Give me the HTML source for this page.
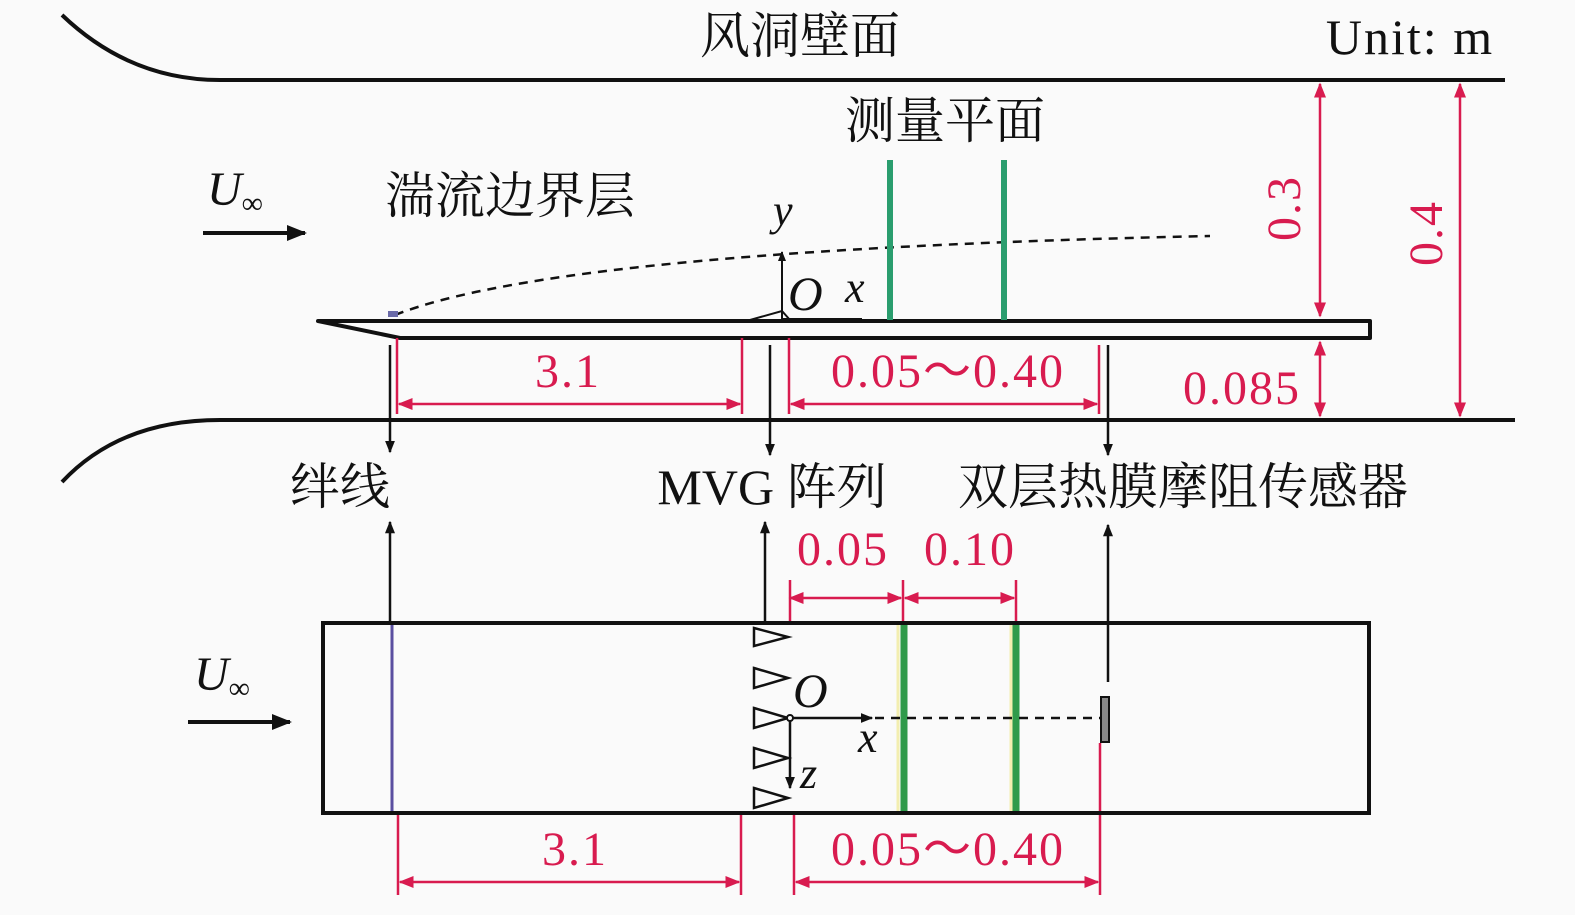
<!DOCTYPE html>
<html><head><meta charset="utf-8"><style>
html,body{margin:0;padding:0;background:#fafafa;}
svg{display:block;}
.cn{font-family:"Liberation Serif","Noto Serif CJK SC",serif;font-size:50px;fill:#111;}
.r{font-family:"Liberation Serif",serif;font-size:48px;fill:#d81b4f;letter-spacing:2px;}
.m{font-family:"Liberation Serif",serif;font-style:italic;fill:#111;}
</style></head><body>
<svg width="1575" height="915" viewBox="0 0 1575 915" xmlns="http://www.w3.org/2000/svg">
<defs>
<marker id="ab" viewBox="0 0 10 10" refX="9" refY="5" markerWidth="5" markerHeight="5" orient="auto-start-reverse"><path d="M0,1 L10,5 L0,9 Z" fill="#111"/></marker>
<marker id="ar" viewBox="0 0 10 10" refX="9" refY="5" markerWidth="6" markerHeight="6" orient="auto-start-reverse"><path d="M0,1 L10,5 L0,9 Z" fill="#d81b4f"/></marker>
</defs>
<rect width="1575" height="915" fill="#fafafa"/>
<path d="M62,15 Q130,80 220,80 L1505,80" fill="none" stroke="#111" stroke-width="4"/>
<path d="M62,482 Q120,420 220,420 L1515,420" fill="none" stroke="#111" stroke-width="4"/>
<path d="M318,321 L1370,321 L1370,338 L400,338 Z" fill="none" stroke="#111" stroke-width="4" stroke-linejoin="round"/>
<path d="M395,315 Q560,250 1210,236" fill="none" stroke="#111" stroke-width="2.5" stroke-dasharray="9,7"/>
<rect x="388" y="311" width="10" height="6" fill="#6a6aa8"/>
<line x1="890" y1="160" x2="890" y2="320" stroke="#2a9d6e" stroke-width="6"/>
<line x1="1004" y1="160" x2="1004" y2="320" stroke="#2a9d6e" stroke-width="6"/>
<line x1="782" y1="319" x2="782" y2="252" stroke="#111" stroke-width="2" marker-end="url(#ab)"/>
<path d="M750,320 L782,311 L790,320" fill="none" stroke="#111" stroke-width="2"/>
<line x1="782" y1="319" x2="862" y2="319" stroke="#111" stroke-width="2"/>
<text class="m" x="773" y="225" font-size="44">y</text>
<text class="m" x="788" y="310" font-size="48">O</text>
<text class="m" x="845" y="302" font-size="44">x</text>
<line x1="203" y1="233" x2="305" y2="233" stroke="#111" stroke-width="4" marker-end="url(#ab)"/>
<line x1="188" y1="722" x2="290" y2="722" stroke="#111" stroke-width="4" marker-end="url(#ab)"/>
<text class="m" x="207" y="205" font-size="48">U<tspan font-size="30" font-style="normal" dy="8">∞</tspan></text>
<text class="m" x="194" y="690" font-size="48">U<tspan font-size="30" font-style="normal" dy="8">∞</tspan></text>
<text class="cn" x="800" y="53" text-anchor="middle">风洞壁面</text>
<text class="r" x="1410" y="54" text-anchor="middle" style="fill:#111;font-size:50px">Unit: m</text>
<text class="cn" x="945" y="138" text-anchor="middle">测量平面</text>
<text class="cn" x="510" y="213" text-anchor="middle">湍流边界层</text>
<g stroke="#d81b4f" stroke-width="2.5" fill="none">
<line x1="1320" y1="84" x2="1320" y2="316" marker-start="url(#ar)" marker-end="url(#ar)"/>
<line x1="1320" y1="342" x2="1320" y2="416" marker-start="url(#ar)" marker-end="url(#ar)"/>
<line x1="1460" y1="84" x2="1460" y2="416" marker-start="url(#ar)" marker-end="url(#ar)"/>
<line x1="397" y1="338" x2="397" y2="414"/>
<line x1="742" y1="338" x2="742" y2="414"/>
<line x1="789" y1="338" x2="789" y2="414"/>
<line x1="1099" y1="345" x2="1099" y2="414"/>
<line x1="399" y1="404" x2="740" y2="404" marker-start="url(#ar)" marker-end="url(#ar)"/>
<line x1="791" y1="404" x2="1097" y2="404" marker-start="url(#ar)" marker-end="url(#ar)"/>
<line x1="790" y1="598" x2="901" y2="598" marker-start="url(#ar)" marker-end="url(#ar)"/>
<line x1="905" y1="598" x2="1014" y2="598" marker-start="url(#ar)" marker-end="url(#ar)"/>
<line x1="790" y1="580" x2="790" y2="623"/>
<line x1="903" y1="580" x2="903" y2="623"/>
<line x1="1016" y1="580" x2="1016" y2="623"/>
<line x1="398" y1="813" x2="398" y2="895"/>
<line x1="741" y1="813" x2="741" y2="895"/>
<line x1="794" y1="813" x2="794" y2="895"/>
<line x1="1100" y1="743" x2="1100" y2="895"/>
<line x1="400" y1="882" x2="739" y2="882" marker-start="url(#ar)" marker-end="url(#ar)"/>
<line x1="796" y1="882" x2="1098" y2="882" marker-start="url(#ar)" marker-end="url(#ar)"/>
</g>
<text class="r" transform="translate(1300,208) rotate(-90)" text-anchor="middle">0.3</text>
<text class="r" transform="translate(1442,233) rotate(-90)" text-anchor="middle">0.4</text>
<text class="r" x="1242" y="404" text-anchor="middle">0.085</text>
<text class="r" x="568" y="387" text-anchor="middle">3.1</text>
<text class="r" x="948" y="387" text-anchor="middle">0.05～0.40</text>
<text class="r" x="843" y="565" text-anchor="middle">0.05</text>
<text class="r" x="970" y="565" text-anchor="middle">0.10</text>
<text class="r" x="575" y="865" text-anchor="middle">3.1</text>
<text class="r" x="948" y="865" text-anchor="middle">0.05～0.40</text>
<g stroke="#111" stroke-width="2.5">
<line x1="390" y1="345" x2="390" y2="452" marker-end="url(#ab)"/>
<line x1="770" y1="345" x2="770" y2="455" marker-end="url(#ab)"/>
<line x1="1108" y1="345" x2="1108" y2="455" marker-end="url(#ab)"/>
<line x1="390" y1="622" x2="390" y2="522" marker-end="url(#ab)"/>
<line x1="765" y1="622" x2="765" y2="522" marker-end="url(#ab)"/>
<line x1="1108" y1="682" x2="1108" y2="525" marker-end="url(#ab)"/>
</g>
<text class="cn" x="340" y="504" text-anchor="middle">绊线</text>
<text class="cn" x="772" y="504" text-anchor="middle">MVG 阵列</text>
<text class="cn" x="1183" y="504" text-anchor="middle">双层热膜摩阻传感器</text>
<rect x="323" y="623" width="1046" height="190" fill="none" stroke="#111" stroke-width="4"/>
<line x1="392" y1="625" x2="392" y2="811" stroke="#5a4fa0" stroke-width="3"/>
<line x1="898" y1="625" x2="898" y2="811" stroke="#f3eeb0" stroke-width="3"/>
<line x1="1011" y1="625" x2="1011" y2="811" stroke="#f3eeb0" stroke-width="3"/>
<line x1="904" y1="625" x2="904" y2="811" stroke="#2f9a4a" stroke-width="7"/>
<line x1="1016" y1="625" x2="1016" y2="811" stroke="#2f9a4a" stroke-width="7"/>
<g fill="none" stroke="#111" stroke-width="2.5">
<path d="M754,628 L788,637 L754,646 Z"/>
<path d="M754,668 L788,678 L754,688 Z"/>
<path d="M754,708 L788,718 L754,728 Z"/>
<path d="M754,748 L788,758 L754,768 Z"/>
<path d="M754,788 L788,798 L754,808 Z"/>
</g>
<line x1="790" y1="718" x2="872" y2="718" stroke="#111" stroke-width="2.5" marker-end="url(#ab)"/>
<line x1="790" y1="718" x2="790" y2="788" stroke="#111" stroke-width="2.5" marker-end="url(#ab)"/>
<circle cx="790" cy="718" r="3" fill="#fafafa" stroke="#111" stroke-width="2"/>
<line x1="875" y1="718" x2="1100" y2="718" stroke="#111" stroke-width="2.5" stroke-dasharray="9,7"/>
<rect x="1101" y="697" width="8" height="45" fill="#888" stroke="#111" stroke-width="2"/>
<text class="m" x="793" y="707" font-size="48">O</text>
<text class="m" x="858" y="752" font-size="44">x</text>
<text class="m" x="800" y="788" font-size="44">z</text>
</svg>
</body></html>
